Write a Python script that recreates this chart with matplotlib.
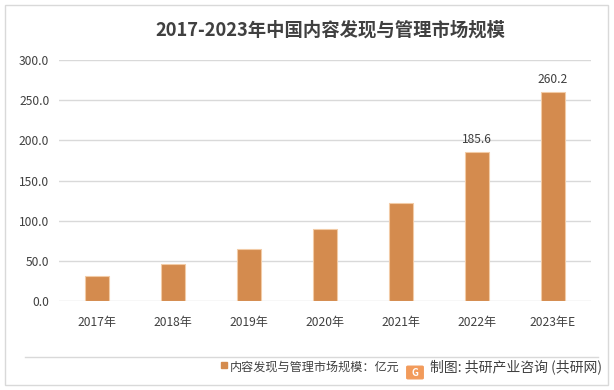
import matplotlib
matplotlib.use('Agg')
import matplotlib.pyplot as plt
from matplotlib.patches import Rectangle, FancyBboxPatch

plt.rcParams['font.family'] = ['Noto Sans CJK SC', 'DejaVu Sans']

years = ['2017年', '2018年', '2019年', '2020年', '2021年', '2022年', '2023年E']
values = [31.0, 46.0, 64.5, 90.0, 122.0, 185.6, 260.2]
labeled = {5: '185.6', 6: '260.2'}

bar_color = '#D48B4E'
text_color = '#404040'

W, H = 614, 390
fig = plt.figure(figsize=(W / 100, H / 100), dpi=100)
ax = fig.add_axes([59 / W, 1 - 301 / H, 532 / W, 241 / H])

x = range(len(years))
ax.bar(x, values, width=0.32, color=bar_color, edgecolor='#F2CBA6', linewidth=0.8, zorder=3)
for i, lab in labeled.items():
    ax.text(i, values[i] + 7, lab, ha='center', va='bottom', fontsize=8.7,
            fontweight='medium', color=text_color)

ax.set_xlim(-0.5, len(years) - 0.5)
ax.set_ylim(0, 300)
ax.set_yticks(range(0, 301, 50))
ax.set_yticklabels([f'{v:.1f}' for v in range(0, 301, 50)])
ax.set_xticks(list(x))
ax.set_xticklabels(years)
ax.tick_params(axis='both', length=0, labelsize=8.7, colors=text_color)
ax.tick_params(axis='x', pad=11)
ax.tick_params(axis='y', pad=7)
for lbl in ax.get_xticklabels() + ax.get_yticklabels():
    lbl.set_fontweight('medium')
ax.grid(axis='y', color='#D9D9D9', linewidth=1, zorder=0)
for s in ax.spines.values():
    s.set_visible(False)

fig.text(330 / W, 1 - 30 / H, '2017-2023年中国内容发现与管理市场规模', ha='center', va='center',
         fontsize=13.2, fontweight='bold', color=text_color)

# frame around the picture
fig.patches.append(Rectangle((5 / W, 5 / H), 603 / W, 380 / H, transform=fig.transFigure,
                             fill=False, edgecolor='#D9D9D9', linewidth=1))
# separator line above the footer
fig.add_artist(plt.Line2D([25 / W, 598 / W], [1 - 357 / H, 1 - 357 / H], color='#D9D9D9', linewidth=1))

# legend
fig.patches.append(Rectangle((221 / W, 1 - 368 / H), 6 / W, 6 / H, transform=fig.transFigure,
                             color=bar_color))
fig.text(230 / W, 1 - 367 / H, '内容发现与管理市场规模：亿元', ha='left', va='center',
         fontsize=8.7, color=text_color)

# source with logo
fig.patches.append(FancyBboxPatch((408 / W, 1 - 378 / H), 14 / W, 11 / H,
                                  boxstyle='round,pad=0.002', transform=fig.transFigure,
                                  color='#F29B5B'))
fig.text(415 / W, 1 - 372.5 / H, 'G', ha='center', va='center', fontsize=7,
         fontweight='bold', color='white')
fig.text(430 / W, 1 - 367 / H, '制图: 共研产业咨询 (共研网)', ha='left', va='center',
         fontsize=10, color=text_color)

fig.savefig('out.png', dpi=100)
